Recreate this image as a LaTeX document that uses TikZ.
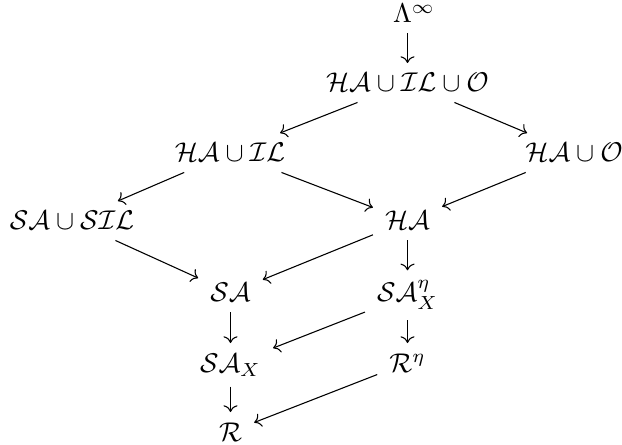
\documentclass[tikz,border=0pt]{standalone}
\usetikzlibrary{cd}
\begin{document}
\begin{tikzpicture}[x=0.369pt,y=-0.369pt,
  obj/.style={anchor=base,inner xsep=1ex,inner ysep=0.85ex,font=\normalsize},
  arr/.style={-{cm to},line width=0.4pt}]
\useasboundingbox (0,0) rectangle (622,445);
\node[obj] (lam)   at (414,23)  {$\Lambda^{\infty}$};
\node[obj] (n1)    at (407.5,92)  {$\mathcal{HA}\cup\mathcal{IL}\cup\mathcal{O}$};
\node[obj] (hail)  at (230,162) {$\mathcal{HA}\cup\mathcal{IL}$};
\node[obj] (hao)   at (574,162) {$\mathcal{HA}\cup\mathcal{O}$};
\node[obj] (sasil) at (72,230)  {$\mathcal{SA}\cup\mathcal{SIL}$};
\node[obj] (ha)    at (407.5,230) {$\mathcal{HA}$};
\node[obj] (sa)    at (230.5,302) {$\mathcal{SA}$};
\node[obj] (saeta) at (407.5,302) {$\mathcal{SA}^{\eta}_X$};
\node[obj] (sax)   at (230.5,372) {$\mathcal{SA}_X$};
\node[obj] (reta)  at (407.5,372) {$\mathcal{R}^{\eta}$};
\node[obj] (r)     at (230.5,441) {$\mathcal{R}$};
\draw[arr] (n1 |- lam.south) -- (n1);
\draw[arr] (n1) -- (hail);
\draw[arr] (n1) -- (hao);
\draw[arr] (hail) -- (sasil);
\draw[arr] (hail) -- (ha);
\draw[arr] (hao) -- (ha);
\draw[arr] (sasil) -- (sa);
\draw[arr] (ha) -- (sa);
\draw[arr] (ha) -- (saeta);
\draw[arr] (sa) -- (sax);
\draw[arr] (saeta) -- (sax);
\draw[arr] (saeta) -- (reta);
\draw[arr] (sax) -- (r);
\draw[arr] (reta) -- (r);
\end{tikzpicture}
\end{document}
